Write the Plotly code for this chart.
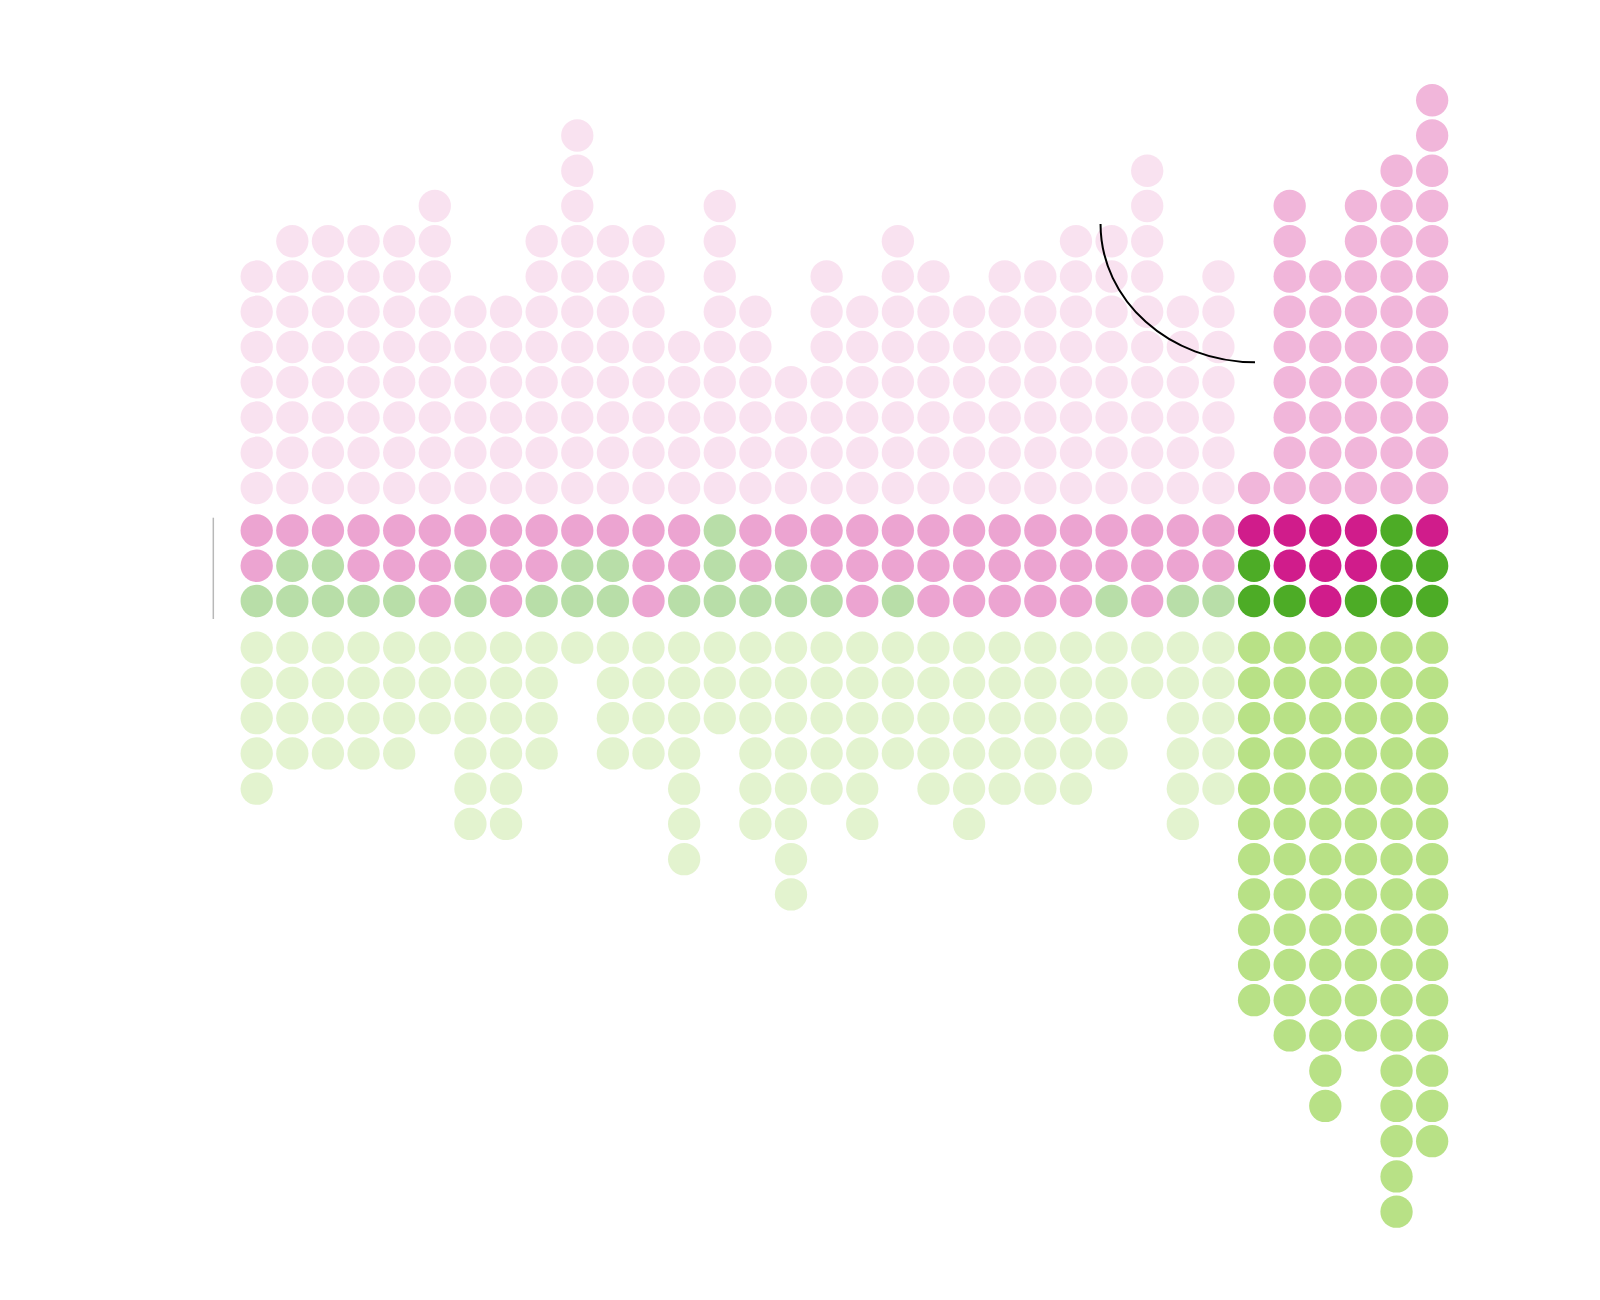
import plotly.graph_objects as go

# ---- data ----
columns = list(range(1, 35))
upper_counts = [7, 8, 8, 8, 8, 9, 6, 6, 8, 11, 8, 8, 5, 9, 6, 4, 7, 6, 8, 7,
                6, 7, 7, 8, 8, 10, 6, 7, 1, 9, 7, 9, 10, 12]
middle_pink = [2, 1, 1, 2, 2, 3, 1, 3, 2, 1, 1, 3, 2, 0, 2, 1, 2, 3, 2, 3,
               3, 3, 3, 3, 2, 3, 2, 2, 1, 2, 3, 2, 0, 1]
middle_total = 3
lower_counts = [5, 4, 4, 4, 4, 3, 6, 6, 4, 1, 4, 4, 7, 3, 6, 8, 5, 6, 4, 5,
                6, 5, 5, 5, 4, 2, 6, 5, 11, 12, 14, 12, 17, 15]
highlighted = [False] * 28 + [True] * 6

# ---- style ----
PINK_DARK = "#d01c8b"
PINK_LIGHT = "#f1b6da"
GREEN_LIGHT = "#b8e186"
GREEN_DARK = "#4dac26"
FADE = 0.4
DOT = 32.3
UP_GAP = 1.205   # gap (row units) between middle band and upper stack
LOW_GAP = 1.325  # gap between middle band and lower stack

groups = {}  # (color, faded) -> ([x], [y])


def add(color, faded, x, y):
    key = (color, faded)
    groups.setdefault(key, ([], []))
    groups[key][0].append(x)
    groups[key][1].append(y)


for i, col in enumerate(columns):
    x = i
    faded = not highlighted[i]
    for k in range(upper_counts[i]):
        add(PINK_LIGHT, faded, x, UP_GAP + k)
    for k in range(middle_total):
        c = PINK_DARK if k < middle_pink[i] else GREEN_DARK
        add(c, faded, x, -k)
    for k in range(lower_counts[i]):
        add(GREEN_LIGHT, faded, x, -(middle_total - 1) - LOW_GAP - k)

fig = go.Figure()
for (color, faded), (xs, ys) in groups.items():
    fig.add_trace(go.Scatter(
        x=xs, y=ys, mode="markers",
        marker=dict(size=DOT, color=color, opacity=FADE if faded else 1.0,
                    line=dict(width=0)),
        hoverinfo="skip", showlegend=False,
    ))

# annotation arc (quarter ellipse) pointing at the first highlighted column
xs_, ys_ = 23.69, 8.695
xe_, ye_ = 28.026, 4.772
k = 0.5523
path = (f"M {xs_},{ys_} C {xs_},{ys_ - k * (ys_ - ye_)} "
        f"{xe_ - k * (xe_ - xs_)},{ye_} {xe_},{ye_}")
fig.add_shape(type="path", path=path, xref="x", yref="y",
              line=dict(color="black", width=2), layer="above")

# grey bracket line beside the middle band
fig.add_shape(type="line", x0=-1.218, x1=-1.218, y0=0.363, y1=-2.51,
              xref="x", yref="y", line=dict(color="#b8b8b8", width=1.5))

x0 = -256.7 / 35.62
y_top = 530.5 / 35.25
fig.update_layout(
    width=1600, height=1300, autosize=False,
    margin=dict(l=0, r=0, t=0, b=0),
    paper_bgcolor="white", plot_bgcolor="white",
    xaxis=dict(range=[x0, x0 + 1600 / 35.62], visible=False, fixedrange=True),
    yaxis=dict(range=[y_top - 1300 / 35.25, y_top], visible=False, fixedrange=True),
    hovermode=False,
)

fig.write_html("out.html")
